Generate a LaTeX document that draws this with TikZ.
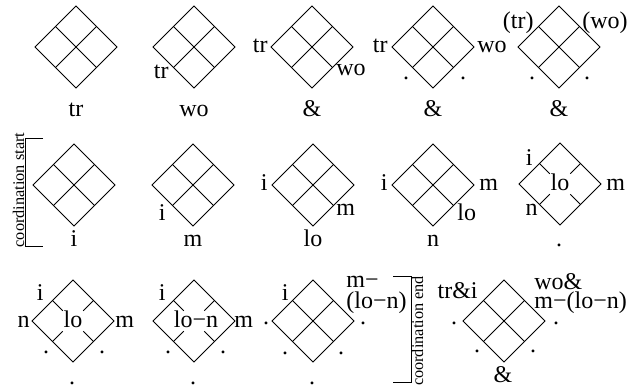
\documentclass[tikz,border=0pt]{standalone}
\usepackage{fontspec}
\setmainfont{Liberation Serif}
\usetikzlibrary{shapes.geometric,calc}
\tikzset{
  dia/.style={draw, diamond, shape aspect=1, minimum width=82pt, minimum height=82pt, inner sep=0pt, outer sep=0pt},
  lab/.style={inner sep=0pt, font=\fontsize{24}{28}\selectfont},
  rlab/.style={inner sep=0pt, font=\fontsize{16.3}{18}\selectfont, rotate=90, anchor=base},
}
\newcommand\fulldia[3]{%
  \node[dia] (#1) at (#2,#3) {};
  \draw ($(#1.north)!.5!(#1.west)$) -- ($(#1.south)!.5!(#1.east)$);
  \draw ($(#1.north)!.5!(#1.east)$) -- ($(#1.south)!.5!(#1.west)$);
}
\newcommand\stubdia[3]{%
  \node[dia] (#1) at (#2,#3) {};
  \draw ($(#1.north)!.5!(#1.west)$) -- ($(#1.north)!.5!(#1.west)!.5!(#1.center)$);
  \draw ($(#1.north)!.5!(#1.east)$) -- ($(#1.north)!.5!(#1.east)!.5!(#1.center)$);
  \draw ($(#1.south)!.5!(#1.west)$) -- ($(#1.south)!.5!(#1.west)!.5!(#1.center)$);
  \draw ($(#1.south)!.5!(#1.east)$) -- ($(#1.south)!.5!(#1.east)!.5!(#1.center)$);
}
\begin{document}
\begin{tikzpicture}[x=1pt, y=-1pt, line width=0.8pt, line join=miter]
\useasboundingbox (0,0) rectangle (631,390);
% ---------- row 1 ----------
\fulldia{a1}{76}{47}
\node[lab, anchor=base] (a1b) at (76,117) {tr};

\fulldia{a2}{194}{47}
\node[lab, anchor=base east] (a2l) at (169,79) {tr};
\node[lab, anchor=base] (a2b) at (194,117) {wo};

\fulldia{a3}{312}{47}
\node[lab, anchor=base east] (a3l) at (268,53) {tr};
\node[lab, anchor=base west] (a3r) at (336,76) {wo};
\node[lab, anchor=base] (a3b) at (312,117) {\&};

\fulldia{a4}{433}{47}
\node[lab, anchor=base east] (a4l) at (388,53) {tr};
\node[lab, anchor=base west] (a4r) at (477,53) {wo};
\node[lab, anchor=base] (a4d1) at (406,80) {.};
\node[lab, anchor=base] (a4d2) at (463,80) {.};
\node[lab, anchor=base] (a4b) at (433,117) {\&};

\fulldia{a5}{559}{47}
\node[lab, anchor=base east] (a5l) at (534,29) {(tr)};
\node[lab, anchor=base west] (a5r) at (582,29) {(wo)};
\node[lab, anchor=base] (a5d1) at (532,80) {.};
\node[lab, anchor=base] (a5d2) at (587,80) {.};
\node[lab, anchor=base] (a5b) at (559,117) {\&};

% ---------- row 2 ----------
\coordinate (cs1) at (43,138);
\coordinate (cs2) at (25,138);
\coordinate (cs3) at (25,246);
\coordinate (cs4) at (43,246);
\draw (cs1) -- (cs2) -- (cs3) -- (cs4);
\node[rlab] (cst) at (24,190) {coordination start};

\fulldia{b1}{74}{185}
\node[lab, anchor=base] (b1b) at (74,246) {i};

\fulldia{b2}{193}{185}
\node[lab, anchor=base east] (b2l) at (166,220) {i};
\node[lab, anchor=base] (b2b) at (193,246) {m};

\fulldia{b3}{313}{185}
\node[lab, anchor=base east] (b3l) at (268,190) {i};
\node[lab, anchor=base west] (b3r) at (336,215) {m};
\node[lab, anchor=base] (b3b) at (313,246) {lo};

\fulldia{b4}{433}{185}
\node[lab, anchor=base east] (b4l) at (388,190) {i};
\node[lab, anchor=base west] (b4r) at (479,190) {m};
\node[lab, anchor=base west] (b4lr) at (457,220) {lo};
\node[lab, anchor=base] (b4b) at (433,246) {n};

\stubdia{b5}{560}{184}
\node[lab, anchor=base east] (b5ul) at (533,165) {i};
\node[lab, anchor=base] (b5c) at (560,190) {lo};
\node[lab, anchor=base west] (b5r) at (606,190) {m};
\node[lab, anchor=base east] (b5ll) at (538,215) {n};
\node[lab, anchor=base] (b5b) at (559,246) {.};

% ---------- row 3 ----------
\stubdia{c1}{73}{321}
\node[lab, anchor=base east] (c1ul) at (44,300) {i};
\node[lab, anchor=base east] (c1l) at (30,327) {n};
\node[lab, anchor=base] (c1c) at (73,327) {lo};
\node[lab, anchor=base west] (c1r) at (115,327) {m};
\node[lab, anchor=base] (c1d1) at (46,353) {.};
\node[lab, anchor=base] (c1d2) at (102,353) {.};
\node[lab, anchor=base] (c1b) at (72,384) {.};

\stubdia{c2}{194}{321}
\node[lab, anchor=base east] (c2ul) at (166,300) {i};
\node[lab, anchor=base] (c2c) at (196,327) {lo−n};
\node[lab, anchor=base west] (c2r) at (234,327) {m};
\node[lab, anchor=base] (c2d1) at (168,353) {.};
\node[lab, anchor=base] (c2d2) at (223,353) {.};
\node[lab, anchor=base] (c2b) at (193,384) {.};

\fulldia{c3}{313}{321}
\node[lab, anchor=base] (c3l) at (266,324) {.};
\node[lab, anchor=base east] (c3ul) at (289,300) {i};
\node[lab, anchor=base west] (c3r1) at (346,287) {m−};
\node[lab, anchor=base west] (c3r2) at (346,308) {(lo−n)};
\node[lab, anchor=base] (c3r) at (363,324) {.};
\node[lab, anchor=base] (c3d1) at (285,354) {.};
\node[lab, anchor=base] (c3d2) at (341,354) {.};
\node[lab, anchor=base] (c3b) at (312,384) {.};

\coordinate (ce1) at (393,276);
\coordinate (ce2) at (411,276);
\coordinate (ce3) at (411,382);
\coordinate (ce4) at (393,382);
\draw (ce1) -- (ce2) -- (ce3) -- (ce4);
\node[rlab] (cet) at (423,331) {coordination end};

\fulldia{c4}{504}{321}
\node[lab, anchor=base east] (c4ul) at (478,298) {tr\&i};
\node[lab, anchor=base west] (c4r1) at (534,289) {wo\&};
\node[lab, anchor=base west] (c4r2) at (534,308) {m−(lo−n)};
\node[lab, anchor=base] (c4l) at (454,324) {.};
\node[lab, anchor=base] (c4r) at (556,324) {.};
\node[lab, anchor=base] (c4d1) at (477,352) {.};
\node[lab, anchor=base] (c4d2) at (533,352) {.};
\node[lab, anchor=base] (c4b) at (503,382) {\&};
\end{tikzpicture}
\end{document}
